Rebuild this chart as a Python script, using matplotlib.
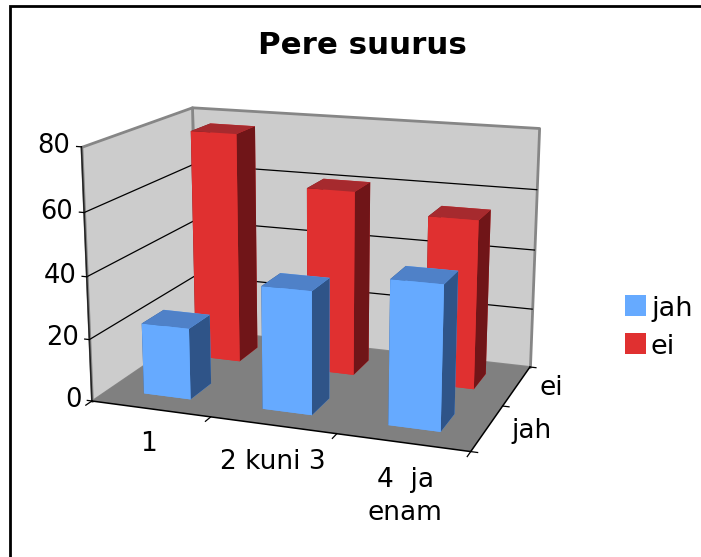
import matplotlib
matplotlib.use("Agg")
import matplotlib.pyplot as plt
from matplotlib.patches import Rectangle
from mpl_toolkits.mplot3d.art3d import Poly3DCollection

categories = ["1", "2 kuni 3", "4  ja\nenam"]
series_names = ["jah", "ei"]
jah_values = [23, 39, 45]
ei_values = [77, 61, 55]
z_ticks = [0, 20, 40, 60, 80]
title = "Pere suurus"

fig = plt.figure(figsize=(7.01, 5.57), dpi=100)
fig.patch.set_facecolor("white")
fig.add_artist(Rectangle((10/701, -0.01), 1.0, 1 - 6/557 + 0.01, transform=fig.transFigure,
                         fill=False, ec="black", lw=2))
fig.text(362/701, 1 - 46/557, title, ha="center", va="center", fontsize=22.2, fontweight="bold")

ax = fig.add_axes([32/701, 8/557, 557/701, 1.0], projection="3d", computed_zorder=False)
ax.set_proj_type("persp", focal_length=0.5)
ax.view_init(elev=15, azim=-70)
ax.set_box_aspect((2.34, 1.52, 1.55), zoom=0.915)
ax.set_xlim(0, 3); ax.set_ylim(0, 2); ax.set_zlim(0, 80)
ax.set_xticks([]); ax.set_yticks([]); ax.set_zticks([])
ax.set_axis_off()
ax.patch.set_alpha(0)

X, Y, Z = 3, 2, z_ticks[-1]
wall = "#cccccc"; edge = "#868686"
ax.add_collection3d(Poly3DCollection([[(0,Y,0),(X,Y,0),(X,Y,Z),(0,Y,Z)]], facecolors=wall, edgecolors=edge, linewidths=2, zorder=1))
ax.add_collection3d(Poly3DCollection([[(0,0,0),(0,Y,0),(0,Y,Z),(0,0,Z)]], facecolors=wall, edgecolors=edge, linewidths=2, zorder=1))
ax.add_collection3d(Poly3DCollection([[(0,0,0),(X,0,0),(X,Y,0),(0,Y,0)]], facecolors="#808080", edgecolors="none", zorder=1))
for t in z_ticks[1:-1]:
    ax.plot([0, 0, X], [0, Y, Y], [t, t, t], color="black", lw=0.9, zorder=2)
ax.plot([0, 0], [0, 0], [0, Z], color="#222222", lw=1.1, zorder=2)
ax.plot([0, X, X], [0, 0, Y], [0, 0, 0], color="black", lw=1.1, zorder=2)

def bars(y, vals, top, front, side, z):
    # faces: bottom, top, -y, +y, -x, +x
    w, d = 0.4, 0.4
    for i, v in enumerate(vals):
        ax.bar3d(i + 0.5 - w/2, y + 0.5 - d/2, 0, w, d, v,
                 color=[front, top, front, front, side, side], shade=False, zorder=5 + i)

bars(1, ei_values, "#a62a2e", "#e03030", "#701518", 3)
bars(0, jah_values, "#4f81c8", "#66aaff", "#2f5488", 8)

# ticks and labels
for t in z_ticks:
    ax.plot([0, -0.04], [0, 0], [t, t], color="black", lw=0.9, zorder=2)
    ax.text(-0.09, 0, t, str(t), ha="right", va="center", fontsize=18.5, zorder=20)
for i in range(4):
    ax.plot([i, i], [0, -0.1], [0, 0], color="black", lw=0.9, zorder=2)
for i, c in enumerate(categories):
    ax.text(i + 0.58, -0.2, -4, c, ha="center", va="top", fontsize=19, linespacing=1.35, zorder=20)
for j in range(3):
    ax.plot([X, X + 0.05], [j, j], [0, 0], color="black", lw=0.9, zorder=2)
for j, s in enumerate(series_names):
    ax.text(X + 0.18, j + 0.5, 0, s, ha="left", va="center", fontsize=19, zorder=20)

for j, (s, c) in enumerate(zip(series_names, ["#66aaff", "#e03030"])):
    y0 = 1 - (316 + 38*j)/557
    fig.add_artist(Rectangle((625/701, y0), 21/701, 21/557, transform=fig.transFigure, fc=c, ec="none"))
    fig.text(651/701, y0, s, va="baseline", fontsize=19.5)

for art in ax.get_children():
    art.set_clip_on(False)
fig.savefig("out.png", dpi=100)
